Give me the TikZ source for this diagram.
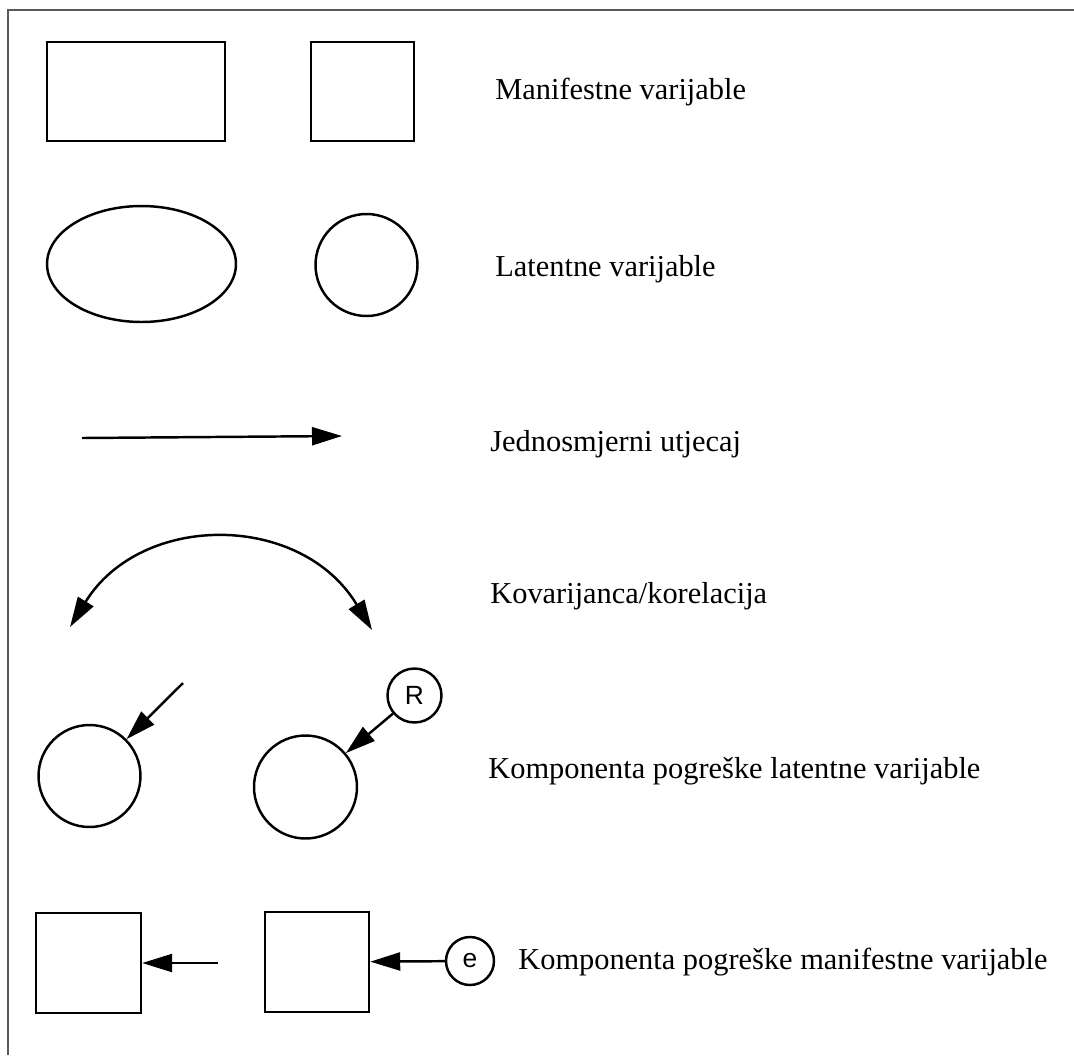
\documentclass[tikz,border=0pt]{standalone}
\usepackage{fontspec}
\setmainfont{Liberation Serif}
\newfontfamily\lblfont{Liberation Sans}
\usetikzlibrary{arrows.meta,shapes.geometric}

\begin{document}
\begin{tikzpicture}[x=0.02cm,y=-0.02cm,
    shp/.style={draw=black,line width=1.4pt,inner sep=0pt},
    box/.style={shp,rectangle},
    ell/.style={shp,ellipse},
    circ/.style={shp,circle},
    lbl/.style={anchor=base west,inner sep=0pt,font=\fontsize{17.3}{20}\selectfont},
    err/.style={circ,font=\lblfont\fontsize{15}{17}\selectfont},
    eff/.style={line width=1.4pt,-{Triangle[length=6mm,width=3.6mm]}}]
  \tikzstyle{every node}+=[inner sep=0pt]
  \useasboundingbox (0,0) rectangle (1074,1055);
  \draw [gray!70!black,line width=0.75pt] (8,1055) -- (8,10) -- (1074,10);
  % manifest
  \node [box,minimum width=3.56cm,minimum height=1.98cm] (mwide) at (136,91.5) {};
  \node [box,minimum width=2.06cm,minimum height=1.98cm] (msq) at (362.5,91.5) {};
  \node [lbl] (tman) at (495,99) {Manifestne varijable};
  % latent
  \node [ell,minimum width=3.78cm,minimum height=2.32cm] (lell) at (141.5,264) {};
  \node [circ,minimum size=2.04cm] (lcirc) at (366.5,265) {};
  \node [lbl] (tlat) at (495,276) {Latentne varijable};
  % one-way effect
  \coordinate (efrom) at (82,438);
  \coordinate (eto) at (342,436);
  \draw [eff] (efrom) -- (eto);
  \node [lbl] (tone) at (490,451) {Jednosmjerni utjecaj};
  % covariance
  \coordinate (kleft) at (70,627);
  \coordinate (kright) at (372,630);
  \draw [line width=1.4pt,{Triangle[length=6mm,width=3.6mm]}-{Triangle[length=6mm,width=3.6mm]}]
    (kleft) .. controls (141,512) and (301,512) .. (kright);
  \node [lbl] (tcov) at (490,603) {Kovarijanca/korelacija};
  % latent error
  \node [circ,minimum size=2.04cm] (lat1) at (89.5,776) {};
  \coordinate (dleft) at (183,683);
  \draw [eff] (dleft) -- (lat1);
  \node [circ,minimum size=2.06cm] (lat2) at (305.5,787) {};
  \node [err,minimum size=1.08cm] (rerr) at (414.5,695.5) {R};
  \draw [eff] (rerr) -- (lat2);
  \node [lbl] (tlerr) at (488,778) {Komponenta pogreške latentne varijable};
  % manifest error
  \node [box,minimum width=2.1cm,minimum height=2cm] (man1) at (88.5,963) {};
  \coordinate (mleft) at (218,963);
  \draw [eff] (mleft) -- (man1);
  \node [box,minimum width=2.08cm,minimum height=2cm] (man2) at (317,962) {};
  \node [err,minimum size=0.96cm] (eerr) at (470,961) {e};
  \draw [eff] (eerr) -- (man2);
  \node [lbl] (tmerr) at (518,969) {Komponenta pogreške manifestne varijable};
\end{tikzpicture}
\end{document}
